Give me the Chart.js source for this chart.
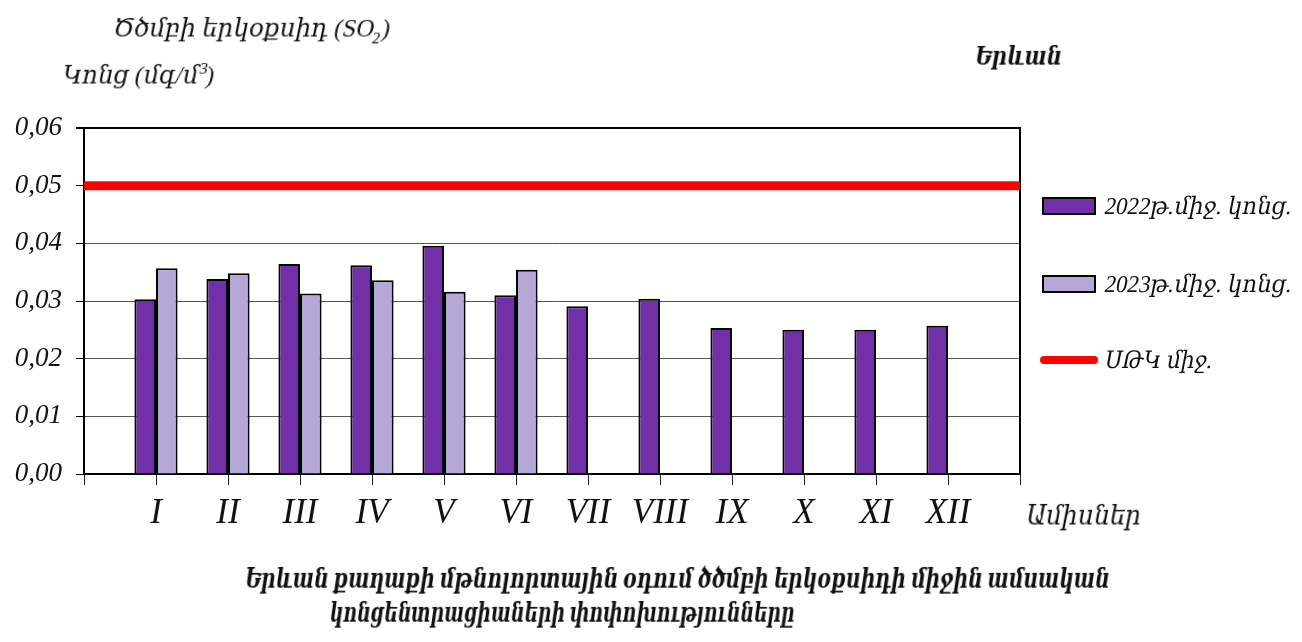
<!DOCTYPE html>
<html>
<head>
<meta charset="utf-8">
<script src="https://cdn.jsdelivr.net/npm/chart.js@4.4.0/dist/chart.umd.min.js"></script>
<style>
  html, body { margin:0; padding:0; background:#fff; }
  #wrap { position:relative; width:1302px; height:642px; overflow:hidden; }
  canvas { position:absolute; left:0; top:0; }
  .t { position:absolute; white-space:nowrap; color:#111; font-style:normal;
       font-family:"Liberation Serif","DejaVu Serif",serif; transform-origin:0 50%; }
  .b { font-weight:bold; }
  #legend { position:absolute; left:1040px; top:0; }
  .item { position:absolute; left:0; white-space:nowrap; height:30px; }
  .sw { position:absolute; left:2px; width:50px; height:14px; border:2px solid #000; }
  .ln { position:absolute; left:0; width:58px; height:8px; border-radius:4px; }
  .lab { left:65px; top:-14px; font-size:24px; }
</style>
</head>
<body>
<div id="wrap">
  <canvas id="chart" width="1302" height="642"></canvas>
  <div class="t" data-w="277" style="left:113px;top:14px;font-size:25px;">Ծծմբի երկօքսիդ (SO<sub style="font-size:16px">2</sub>)</div>
  <div class="t" data-w="152" style="left:63px;top:60px;font-size:25px;">Կոնց (մգ/մ<sup style="font-size:16px">3</sup>)</div>
  <div class="t b" data-w="87" style="left:975px;top:42px;font-size:25px;">Երևան</div>
  <div class="t" data-w="115" style="left:1026px;top:500px;font-size:27px;">Ամիսներ</div>
  <div class="t b" data-w="865" style="left:245px;top:562px;font-size:28px;">Երևան քաղաքի մթնոլորտային օդում ծծմբի երկօքսիդի միջին ամսական</div>
  <div class="t b" data-w="465" style="left:330px;top:596px;font-size:28px;">կոնցենտրացիաների փոփոխությունները</div>
  <div id="legend"></div>
</div>
<script>
  const months = ["I","II","III","IV","V","VI","VII","VIII","IX","X","XI","XII"];
  const conc2022 = [0.0303,0.0338,0.0364,0.0362,0.0396,0.0310,0.0291,0.0304,0.0253,0.0250,0.0250,0.0257];
  const conc2023 = [0.0357,0.0348,0.0313,0.0336,0.0316,0.0354];
  const limitValue = 0.05;
  const yTicks = [0,0.01,0.02,0.03,0.04,0.05,0.06];

  const names = ["2022թ.միջ. կոնց.","2023թ.միջ. կոնց.","ՍԹԿ միջ."];
  const colors = ["#7230a8","#b6a8d6","#ff0000"];

  // empty slot on each side, like the source axis
  const labels = ["", ...months, ""];
  const pad = arr => [null, ...arr, ...Array(labels.length - 1 - arr.length).fill(null)];
  const limitLine = labels.map(() => limitValue);

  const tickFont = { family:"'Liberation Serif','DejaVu Serif',serif", style:"italic", size:27 };

  new Chart(document.getElementById("chart"), {
    type:"bar",
    data:{
      labels,
      datasets:[
        { label:names[0], data:pad(conc2022), backgroundColor:colors[0], borderColor:"#000", borderWidth:2,
          barPercentage:1, categoryPercentage:0.6, order:2 },
        { label:names[1], data:pad(conc2023), backgroundColor:colors[1], borderColor:"#000", borderWidth:2,
          barPercentage:1, categoryPercentage:0.6, order:2 },
        { type:"line", label:names[2], data:limitLine, borderColor:colors[2], borderWidth:9,
          pointRadius:0, fill:false, order:1 }
      ]
    },
    options:{
      responsive:false,
      animation:false,
      layout:{ padding:{ top:128, right:282, bottom:0, left:0 } },
      plugins:{ legend:{ display:false }, tooltip:{ enabled:false } },
      scales:{
        x:{
          offset:false,
          grid:{ offset:false, drawOnChartArea:false, drawTicks:true, tickLength:11, color:"#222", lineWidth:1 },
          border:{ color:"#000", width:2 },
          ticks:{ autoSkip:false, maxRotation:0, font:{ ...tickFont, size:35 }, color:"#111", padding:8 },
          afterFit: s => { s.height = 642 - 474; }
        },
        y:{
          min:0, max:0.06,
          afterBuildTicks: s => { s.ticks = yTicks.map(v => ({ value:v })); },
          grid:{ color: c => (c.tick && c.tick.value === 0.06) ? "#000" : "#555",
                 lineWidth: c => (c.tick && c.tick.value === 0.06) ? 2 : 1,
                 tickLength:8, tickColor:"#000" },
          border:{ color:"#000", width:2 },
          ticks:{ font:tickFont, color:"#111", padding:14,
                  callback: v => v.toFixed(2).replace(".", ",") },
          afterFit: s => { s.width = 84; }
        },
        y2:{
          position:"right", min:0, max:0.06,
          grid:{ drawOnChartArea:false, drawTicks:false },
          border:{ color:"#000", width:2 },
          ticks:{ display:false },
          afterFit: s => { s.width = 0; }
        }
      }
    }
  });

  // legend built from the same names/colours
  const legend = document.getElementById("legend");
  const rows = [206, 284, 360];
  const labW = [187, 187, 108];
  names.forEach((n, i) => {
    const it = document.createElement("div");
    it.className = "item";
    it.style.top = rows[i] + "px";
    const mark = document.createElement("div");
    if (i < 2) { mark.className = "sw"; mark.style.top = "-9px"; }
    else { mark.className = "ln"; mark.style.top = "-4px"; }
    mark.style.background = colors[i];
    const lab = document.createElement("div");
    lab.className = "t lab";
    lab.dataset.w = labW[i];
    lab.textContent = n;
    it.appendChild(mark); it.appendChild(lab);
    legend.appendChild(it);
  });

  // fake the italic of the source font and squeeze text to its width there
  document.querySelectorAll(".t[data-w]").forEach(el => {
    const k = Math.min(1.15, +el.dataset.w / el.offsetWidth);
    el.style.transform = `scaleX(${k.toFixed(3)}) skewX(-12deg)`;
  });
</script>
</body>
</html>
